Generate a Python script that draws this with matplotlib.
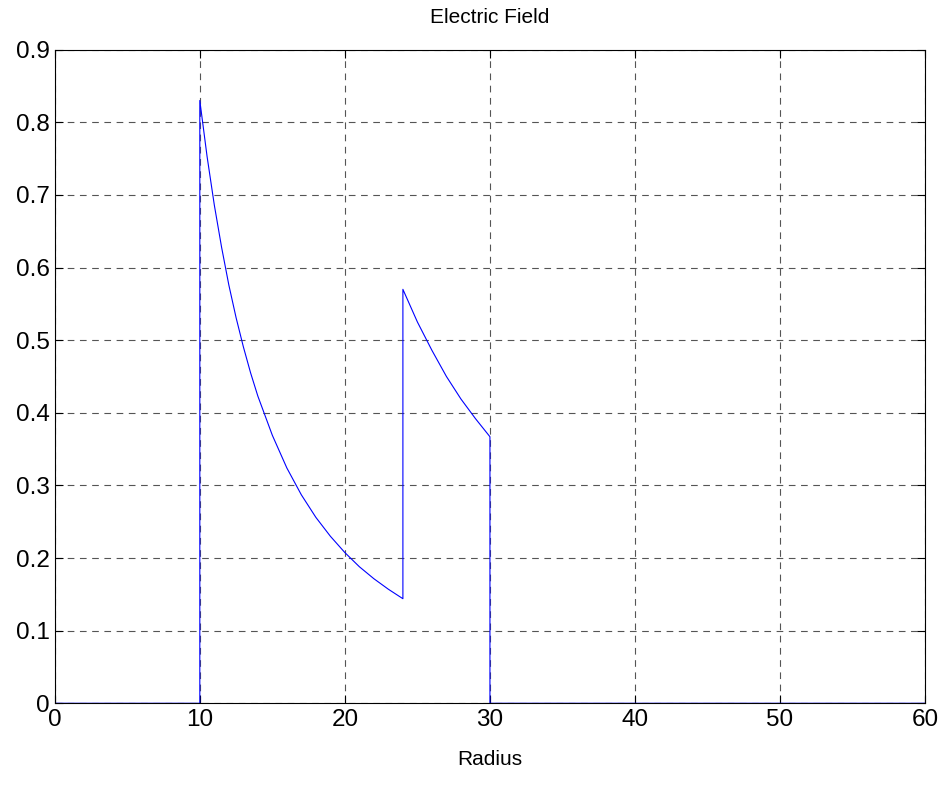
import matplotlib
matplotlib.use("Agg")
import matplotlib.pyplot as plt

plt.rcParams['font.family'] = ['Liberation Sans', 'DejaVu Sans']

# radius / field values
radius = [0, 10, 10, 10.5, 11, 11.5, 12, 12.5, 13, 13.5, 14, 15, 16, 17, 18, 19,
          20, 21, 22, 23, 24, 24, 25, 26, 27, 28, 29, 30, 30, 60]
field = [0, 0, 0.83, 0.753, 0.686, 0.628, 0.576, 0.531, 0.491, 0.455, 0.423,
         0.369, 0.324, 0.287, 0.256, 0.230, 0.2075, 0.188, 0.1715, 0.157, 0.144,
         0.57, 0.525, 0.486, 0.450, 0.419, 0.392, 0.367, 0, 0]

xticks = [0, 10, 20, 30, 40, 50, 60]
yticks = [0, 0.1, 0.2, 0.3, 0.4, 0.5, 0.6, 0.7, 0.8, 0.9]

fig = plt.figure(figsize=(9.44, 8.01), dpi=100)
ax = fig.add_axes([0.058, 0.122, 0.922, 0.816])
ax.plot(radius, field, color='#0000ff', lw=0.8)
ax.set_xlim(0, 60)
ax.set_ylim(0, 0.9)
ax.set_xticks(xticks)
ax.set_yticks(yticks)
ax.set_yticklabels(['0'] + ['%.1f' % v for v in yticks[1:]])
ax.grid(True, color='#555555', linestyle=(0, (6, 5)), lw=0.8)
ax.tick_params(direction='in', top=True, right=True, labelsize=17.5, length=6)
ax.tick_params(axis='x', pad=4)
ax.set_xlabel('Radius', fontsize=15, labelpad=14)
ax.set_title('Electric Field', fontsize=15, pad=19)
for s in ax.spines.values():
    s.set_linewidth(0.8)

fig.savefig('out.png', dpi=100)
